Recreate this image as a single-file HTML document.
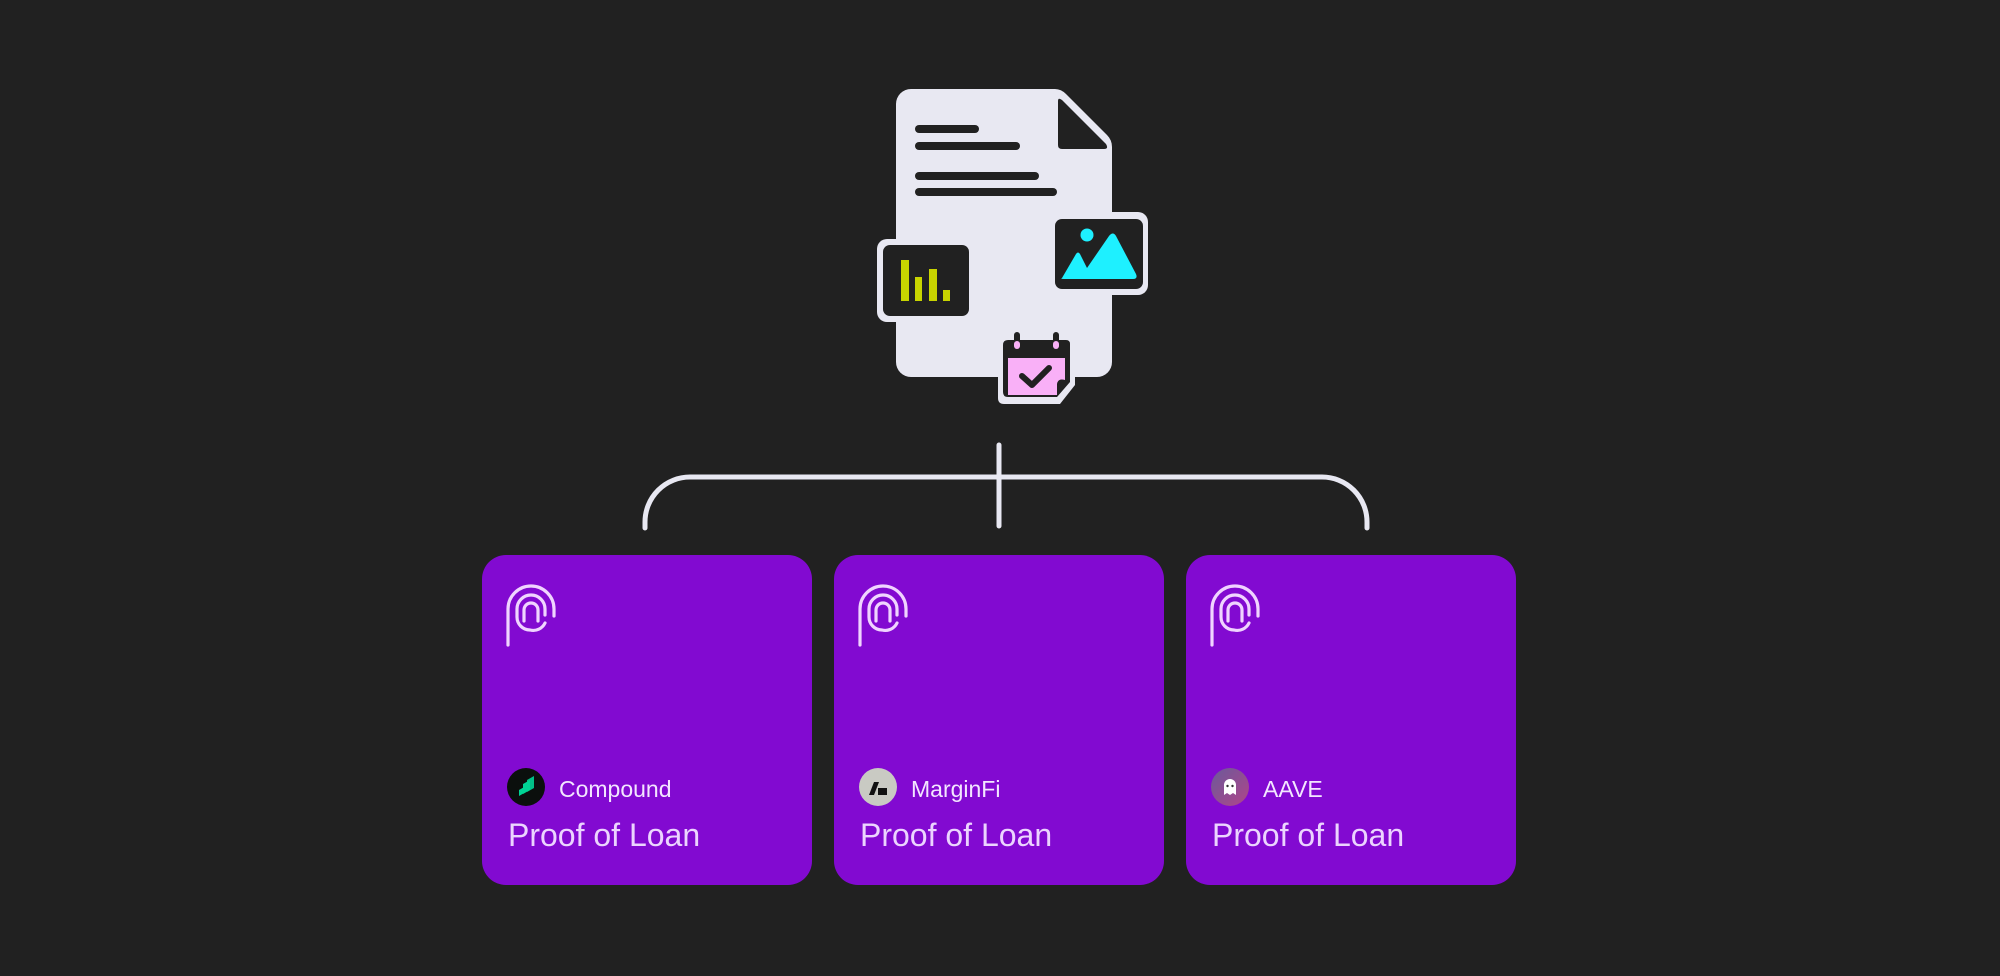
<!DOCTYPE html>
<html><head><meta charset="utf-8">
<style>
html,body{margin:0;padding:0;background:#212121;}
body{width:2000px;height:976px;position:relative;overflow:hidden;font-family:"Liberation Sans",sans-serif;}
.card{position:absolute;top:555px;width:330px;height:330px;border-radius:24px;background:#820ad1;}
.title{position:absolute;left:26px;top:262px;color:#ecd4ff;font-size:32px;}
.sub{position:absolute;left:77px;top:221px;color:#f3e6ff;font-size:23px;}
.logo{position:absolute;left:25px;top:213px;width:38px;height:38px;border-radius:50%;}
.fp{position:absolute;left:20px;top:28px;}
</style></head><body>
<svg width="2000" height="976" style="position:absolute;left:0;top:0">
  <g fill="none" stroke="#e8e8f2" stroke-width="5" stroke-linecap="round">
    <path d="M645,528 V522 A45,45 0 0 1 690,477 H1322 A45,45 0 0 1 1367,522 V528"/>
    <path d="M999,445 V526"/>
  </g>
  <path d="M911,89 H1055 Q1061,89 1066,94 L1107,135 Q1112,140 1112,147 V362 A15,15 0 0 1 1097,377 H911 A15,15 0 0 1 896,362 V104 A15,15 0 0 1 911,89 Z" fill="#e8e8f2"/>
  <path d="M1058,101 Q1058,97 1062,100 L1106,144 Q1109,149 1104,149 H1062 Q1058,149 1058,145 Z" fill="#212121"/>
  <g stroke="#212121" stroke-width="8" stroke-linecap="round">
    <line x1="919" y1="129" x2="975" y2="129"/>
    <line x1="919" y1="146" x2="1016" y2="146"/>
    <line x1="919" y1="176" x2="1035" y2="176"/>
    <line x1="919" y1="192" x2="1053" y2="192"/>
  </g>
  <rect x="877" y="239" width="96" height="83" rx="10" fill="#e8e8f2"/>
  <rect x="883" y="245" width="86" height="71" rx="7" fill="#212121"/>
  <g fill="#c8d400">
    <rect x="901" y="260" width="8" height="41"/>
    <rect x="915" y="277" width="7" height="24"/>
    <rect x="929" y="269" width="8" height="32"/>
    <rect x="943" y="290" width="7" height="11"/>
  </g>
  <rect x="1053" y="212" width="95" height="83" rx="10" fill="#e8e8f2"/>
  <rect x="1055" y="219" width="88" height="70" rx="7" fill="#212121"/>
  <g fill="#1ef0ff">
    <circle cx="1087" cy="235" r="6.5"/>
    <path d="M1062,278 L1076,254 Q1078,251 1080,254 L1087,268 L1109,236 Q1113,231 1116,236 L1136,274 Q1138,279 1133,279 H1064 Q1060,279 1062,278 Z"/>
  </g>
  <path d="M1004,333 H1068 Q1075,333 1075,340 V385 L1060,404 H1004 Q998,404 998,398 V339 Q998,333 1004,333 Z" fill="#e8e8f2"/>
  <path d="M1008,340 H1066 Q1070,340 1070,344 V382 L1057,397 H1008 Q1003,397 1003,392 V345 Q1003,340 1008,340 Z" fill="#212121"/>
  <path d="M1008,358 H1065 V380 Q1058,378 1057,384 V395 H1008 Z" fill="#f9b0f7"/>
  <g stroke="#212121" stroke-width="6" stroke-linecap="round">
    <line x1="1017" y1="335" x2="1017" y2="343"/>
    <line x1="1056" y1="335" x2="1056" y2="343"/>
  </g>
  <g stroke="#f9b0f7" stroke-width="6" stroke-linecap="round">
    <line x1="1017" y1="344" x2="1017" y2="346"/>
    <line x1="1056" y1="344" x2="1056" y2="346"/>
  </g>
  <path d="M1022,376 L1032,385 L1049,368" fill="none" stroke="#212121" stroke-width="6" stroke-linecap="round" stroke-linejoin="round"/>
</svg>

<div class="card" style="left:482px">
  <svg class="fp" width="56" height="66" viewBox="0 0 56 66"><g fill="none" stroke="#f0d4ff" stroke-width="3.2" stroke-linecap="round">
    <path d="M6,62 V26 A23,23 0 0 1 52,26 V33"/>
    <path d="M43,32 V26 A14,14 0 0 0 15,26 V34 A13,13 0 0 0 28,47 A13,13 0 0 0 43,40"/>
    <path d="M22,38 V27 A7,7 0 0 1 36,27 V38"/>
  </g></svg>
  <div class="logo" style="background:#0b0f0d"><svg width="38" height="38"><g fill="#00d395"><path d="M12,22 L19,18 V24 L12,28 Z"/><path d="M16,16 L23,12 V22 L16,26 Z"/><path d="M20,12 L27,8 V20 L20,24 Z" opacity="0.9"/></g></svg></div>
  <div class="sub">Compound</div>
  <div class="title">Proof of Loan</div>
</div>
<div class="card" style="left:834px">
  <svg class="fp" width="56" height="66" viewBox="0 0 56 66"><g fill="none" stroke="#f0d4ff" stroke-width="3.2" stroke-linecap="round">
    <path d="M6,62 V26 A23,23 0 0 1 52,26 V33"/>
    <path d="M43,32 V26 A14,14 0 0 0 15,26 V34 A13,13 0 0 0 28,47 A13,13 0 0 0 43,40"/>
    <path d="M22,38 V27 A7,7 0 0 1 36,27 V38"/>
  </g></svg>
  <div class="logo" style="background:#c9cac3"><svg width="38" height="38"><g fill="#111"><path d="M10,27 L15,14 H20 L15,27 Z"/><rect x="19" y="20" width="9" height="7"/></g></svg></div>
  <div class="sub">MarginFi</div>
  <div class="title">Proof of Loan</div>
</div>
<div class="card" style="left:1186px">
  <svg class="fp" width="56" height="66" viewBox="0 0 56 66"><g fill="none" stroke="#f0d4ff" stroke-width="3.2" stroke-linecap="round">
    <path d="M6,62 V26 A23,23 0 0 1 52,26 V33"/>
    <path d="M43,32 V26 A14,14 0 0 0 15,26 V34 A13,13 0 0 0 28,47 A13,13 0 0 0 43,40"/>
    <path d="M22,38 V27 A7,7 0 0 1 36,27 V38"/>
  </g></svg>
  <div class="logo" style="background:linear-gradient(135deg,#6a5a9a,#b0458a)"><svg width="38" height="38"><path d="M13,27 V17 A6,6 0 0 1 25,17 V27 L22,25 L19,27 L16,25 Z" fill="#fff"/><circle cx="16.5" cy="18" r="1.2" fill="#333"/><circle cx="21.5" cy="18" r="1.2" fill="#333"/></svg></div>
  <div class="sub">AAVE</div>
  <div class="title">Proof of Loan</div>
</div>
</body></html>
